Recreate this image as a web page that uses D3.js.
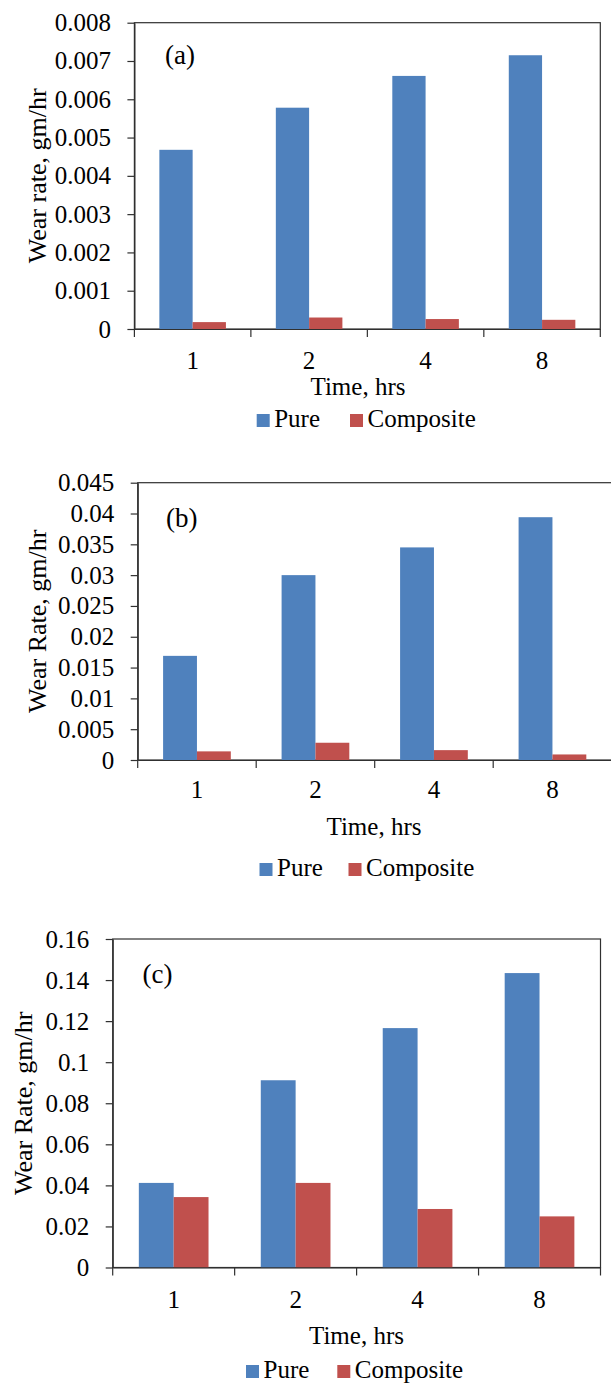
<!DOCTYPE html>
<html>
<head>
<meta charset="utf-8">
<script src="https://cdn.jsdelivr.net/npm/d3@7"></script>
<style>
  body { margin: 0; background: #fff; }
  svg { display: block; font-family: "Liberation Serif", "Times New Roman", serif; }
</style>
</head>
<body>
<div id="chart"></div>
<script>
// Data
var categories = ["1", "2", "4", "8"];
var seriesNames = ["Pure", "Composite"];
var colors = ["#4F81BD", "#C0504D"];

// (a)
var pureA = [0.00468, 0.00578, 0.00661, 0.00715];
var compA = [0.00018, 0.00030, 0.00026, 0.00024];
var ticksA = [0, 0.001, 0.002, 0.003, 0.004, 0.005, 0.006, 0.007, 0.008];
// (b)
var pureB = [0.0169, 0.0300, 0.0345, 0.0394];
var compB = [0.0014, 0.0028, 0.0016, 0.0009];
var ticksB = [0, 0.005, 0.01, 0.015, 0.02, 0.025, 0.03, 0.035, 0.04, 0.045];
// (c)
var pureC = [0.0412, 0.0912, 0.1166, 0.1434];
var compC = [0.0343, 0.0412, 0.0285, 0.0249];
var ticksC = [0, 0.02, 0.04, 0.06, 0.08, 0.1, 0.12, 0.14, 0.16];

var panelLabels = ["(a)", "(b)", "(c)"];
var yTitles = ["Wear rate, gm/hr", "Wear Rate, gm/hr", "Wear Rate, gm/hr"];
var xTitle = "Time, hrs";

// layout for each panel (pixel positions)
var panels = [
  {pure: pureA, comp: compA, ticks: ticksA, left: 134.4, right: 600.3, top: 22.7, bottom: 329,
   yTitleX: 46, xTickPad: 22, xTitleX: 358, xTitleY: 395, legY: 427, legX: 256.7, legX2: 350, tagX: 165, tagY: 64},
  {pure: pureB, comp: compB, ticks: ticksB, left: 137.7, right: 611.7, top: 482.7, bottom: 760,
   yTitleX: 46, xTickPad: 20, xTitleX: 374, xTitleY: 835, legY: 876, legX: 259.5, legX2: 348.5, tagX: 166, tagY: 527},
  {pure: pureC, comp: compC, ticks: ticksC, left: 112.7, right: 600.5, top: 939, bottom: 1267.5,
   yTitleX: 32, xTickPad: 23, xTitleX: 356.5, xTitleY: 1344, legY: 1378, legX: 246, legX2: 337.3, tagX: 142.5, tagY: 983}
];

var W = 611, H = 1385, fs = 25;
var svg = d3.select("#chart").append("svg").attr("width", W).attr("height", H);

var fmt = function(d){ return d === 0 ? "0" : String(+d.toFixed(4)); };

panels.forEach(function(p, k){
  var g = svg.append("g");

  var x0 = d3.scaleBand().domain(categories).range([p.left, p.right]).padding(0);
  var x1 = d3.scaleBand().domain(seriesNames).range([0, x0.bandwidth()])
    .paddingInner(0).paddingOuter(0.75);
  var y = d3.scaleLinear().domain([0, d3.max(p.ticks)]).range([p.bottom, p.top]);

  // plot frame
  g.append("rect")
    .attr("x", p.left).attr("y", p.top)
    .attr("width", p.right - p.left).attr("height", p.bottom - p.top)
    .attr("fill", "none").attr("stroke", "#303030").attr("stroke-width", 1.2);

  // bars
  var rows = categories.map(function(c, i){ return {cat: c, vals: [p.pure[i], p.comp[i]]}; });
  g.selectAll("g.cat").data(rows).enter().append("g")
    .attr("transform", function(d){ return "translate(" + x0(d.cat) + ",0)"; })
    .selectAll("rect").data(function(d){ return d.vals.map(function(v, j){ return {s: seriesNames[j], v: v, j: j}; }); })
    .enter().append("rect")
      .attr("x", function(d){ return x1(d.s); })
      .attr("y", function(d){ return y(d.v); })
      .attr("width", x1.bandwidth())
      .attr("height", function(d){ return p.bottom - y(d.v); })
      .attr("fill", function(d){ return colors[d.j]; });

  // y axis
  var ya = g.append("g").attr("transform", "translate(" + p.left + ",0)")
    .call(d3.axisLeft(y).tickValues(p.ticks).tickFormat(fmt).tickSize(7).tickSizeOuter(0).tickPadding(16.5));
  ya.attr("font-family", null);
  ya.selectAll("line, path").attr("stroke", "#303030").attr("stroke-width", 1.2);
  ya.selectAll("text").attr("font-size", fs).attr("fill", "#000");

  // x axis
  var xa = g.append("g").attr("transform", "translate(0," + p.bottom + ")")
    .call(d3.axisBottom(x0).tickSize(0).tickSizeOuter(0).tickPadding(p.xTickPad));
  xa.attr("font-family", null);
  xa.selectAll("path").attr("stroke", "#303030").attr("stroke-width", 1.2);
  xa.selectAll("text").attr("font-size", fs).attr("fill", "#000");

  // boundary ticks between categories
  var bounds = categories.map(function(c){ return x0(c); }).concat([p.right]);
  g.selectAll("line.bt").data(bounds).enter().append("line")
    .attr("x1", function(d){ return d; }).attr("x2", function(d){ return d; })
    .attr("y1", p.bottom).attr("y2", p.bottom + 8)
    .attr("stroke", "#303030").attr("stroke-width", 1.2);

  // titles
  g.append("text")
    .attr("transform", "translate(" + p.yTitleX + "," + ((p.top + p.bottom) / 2) + ") rotate(-90)")
    .attr("text-anchor", "middle").attr("font-size", fs + 1)
    .text(yTitles[k]);
  g.append("text").attr("x", p.xTitleX).attr("y", p.xTitleY)
    .attr("text-anchor", "middle").attr("font-size", fs).text(xTitle);
  g.append("text").attr("x", p.tagX).attr("y", p.tagY)
    .attr("font-size", fs + 2).text(panelLabels[k]);

  // legend
  var lx = [p.legX, p.legX2];
  seriesNames.forEach(function(s, j){
    g.append("rect").attr("x", lx[j]).attr("y", p.legY - 13)
      .attr("width", 13).attr("height", 13).attr("fill", colors[j]);
    g.append("text").attr("x", lx[j] + 17.5).attr("y", p.legY)
      .attr("font-size", fs).text(s);
  });
});
</script>
</body>
</html>
